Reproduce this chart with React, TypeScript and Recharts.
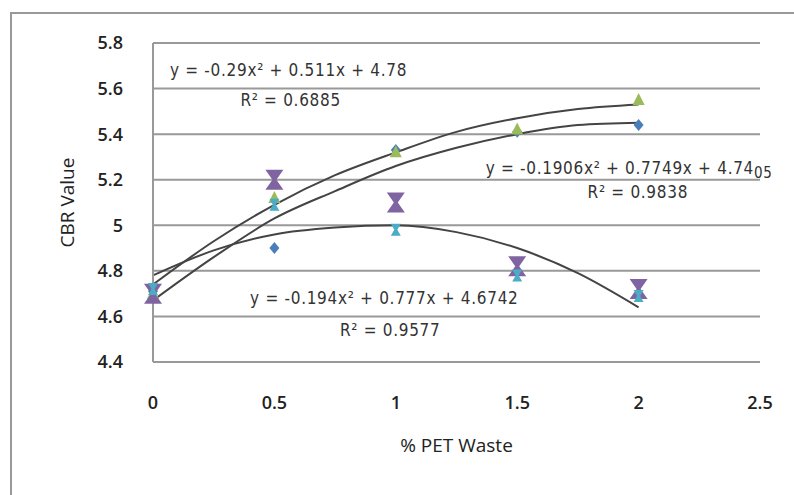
import React from 'react';
import { ComposedChart, Scatter, Line, XAxis, YAxis, CartesianGrid, ReferenceDot } from 'recharts';

// % PET waste
const xVals = [0, 0.5, 1, 1.5, 2];
// CBR values per series
const blueY = [4.71, 4.9, 5.33, 5.41, 5.44];
const greenY = [4.7, 5.12, 5.32, 5.42, 5.55];
const purpleY = [4.7, 5.2, 5.1, 4.82, 4.72];
const cyanY = [4.72, 5.09, 4.98, 4.78, 4.69];

// trendline values
const trendX = [0, 0.25, 0.5, 0.75, 1, 1.25, 1.5, 1.75, 2];
const upperTrend = [4.74, 4.93, 5.09, 5.22, 5.32, 5.41, 5.47, 5.51, 5.53];
const middleTrend = [4.67, 4.86, 5.03, 5.15, 5.26, 5.34, 5.4, 5.44, 5.45];
const lowerTrend = [4.78, 4.89, 4.96, 4.99, 5.0, 4.97, 4.9, 4.79, 4.64];

const xTicks = [0, 0.5, 1, 1.5, 2, 2.5];
const yTicks = [4.4, 4.6, 4.8, 5, 5.2, 5.4, 5.6, 5.8];

const annotations = [
  { x: 0.07, y: 5.68, text: 'y = -0.29x²  + 0.511x + 4.78' },
  { x: 0.36, y: 5.55, text: 'R² = 0.6885' },
  { x: 1.37, y: 5.25, text: 'y = -0.1906x²  + 0.7749x  + 4.74', tail: '05' },
  { x: 1.79, y: 5.145, text: 'R² = 0.9838' },
  { x: 0.4, y: 4.68, text: 'y = -0.194x²  + 0.777x + 4.6742' },
  { x: 0.77, y: 4.54, text: 'R² = 0.9577' },
];

const toPoints = (xs: number[], ys: number[]) => xs.map((x, i) => ({ x, y: ys[i] }));

const Diamond = ({ cx, cy }: any) => (
  <polygon points={`${cx},${cy - 6} ${cx + 5},${cy} ${cx},${cy + 6} ${cx - 5},${cy}`} fill="#4A7EBB" />
);
const Triangle = ({ cx, cy }: any) => (
  <polygon points={`${cx},${cy - 7} ${cx + 6},${cy + 5} ${cx - 6},${cy + 5}`} fill="#9BBB59" />
);
const Hourglass = ({ cx, cy }: any) => (
  <polygon
    points={`${cx - 9},${cy - 10} ${cx + 9},${cy - 10} ${cx + 2},${cy} ${cx + 9},${cy + 10} ${cx - 9},${cy + 10} ${cx - 2},${cy}`}
    fill="#8064A2"
  />
);
const Cross = ({ cx, cy }: any) => (
  <polygon
    points={`${cx - 5},${cy - 6} ${cx + 5},${cy - 6} ${cx + 1.5},${cy} ${cx + 5},${cy + 6} ${cx - 5},${cy + 6} ${cx - 1.5},${cy}`}
    fill="#4BACC6"
  />
);

const EqLabel = ({ viewBox, text, tail }: any) => (
  <text
    x={viewBox.x}
    y={viewBox.y}
    dy={6}
    fill="#333"
    fontSize={17}
    letterSpacing={0.7}
    fontFamily="'Liberation Sans Narrow', 'DejaVu Sans Condensed', sans-serif"
  >
    {text}
    {tail && <tspan dy={4} fontSize={15}>{tail}</tspan>}
  </text>
);

const fontFam = "'Open Sans', 'Noto Sans', sans-serif";
const tickStyle = { fontSize: 18, fill: '#222', fontFamily: fontFam, fontWeight: 600 };

export default function App() {
  return (
    <div style={{ position: 'absolute', left: 0, top: 0, width: 794, height: 495, background: '#fff', overflow: 'hidden' }}>
      <div
        style={{ position: 'absolute', left: 10, top: 12, width: 820, height: 520, border: '2px solid #999', boxSizing: 'border-box' }}
      />
      <div style={{ position: 'absolute', left: 0, top: 0 }}>
        <ComposedChart width={794} height={495} margin={{ top: 43, right: 34, left: 83, bottom: 43 }}>
          <CartesianGrid horizontal vertical={false} stroke="#999" strokeWidth={2} />
          <XAxis
            dataKey="x"
            type="number"
            domain={[0, 2.5]}
            ticks={xTicks}
            axisLine={false}
            tickLine={false}
            tickMargin={28}
            height={90}
            tick={tickStyle}
            label={{ value: '% PET Waste', position: 'insideBottom', offset: 0, fontSize: 19, fill: '#222', fontFamily: fontFam }}
          />
          <YAxis
            dataKey="y"
            type="number"
            domain={[4.4, 5.8]}
            ticks={yTicks}
            width={70}
            axisLine={{ stroke: '#999', strokeWidth: 2 }}
            tickLine={false}
            tickMargin={24}
            tick={tickStyle}
            label={{ value: 'CBR Value', angle: -90, position: 'insideLeft', offset: -16, fontSize: 19, fill: '#222', fontFamily: fontFam, style: { textAnchor: 'middle' } }}
          />
          <Line data={toPoints(trendX, upperTrend)} dataKey="y" type="monotone" stroke="#444" strokeWidth={2} dot={false} isAnimationActive={false} />
          <Line data={toPoints(trendX, middleTrend)} dataKey="y" type="monotone" stroke="#444" strokeWidth={2} dot={false} isAnimationActive={false} />
          <Line data={toPoints(trendX, lowerTrend)} dataKey="y" type="monotone" stroke="#444" strokeWidth={2} dot={false} isAnimationActive={false} />
          <Scatter data={toPoints(xVals, blueY)} shape={<Diamond />} isAnimationActive={false} />
          <Scatter data={toPoints(xVals, greenY)} shape={<Triangle />} isAnimationActive={false} />
          <Scatter data={toPoints(xVals, purpleY)} shape={<Hourglass />} isAnimationActive={false} />
          <Scatter data={toPoints(xVals, cyanY)} shape={<Cross />} isAnimationActive={false} />
          {annotations.map((a, i) => (
            <ReferenceDot key={i} x={a.x} y={a.y} r={0} stroke="none" fill="none" label={<EqLabel text={a.text} tail={a.tail} />} />
          ))}
        </ComposedChart>
      </div>
    </div>
  );
}
